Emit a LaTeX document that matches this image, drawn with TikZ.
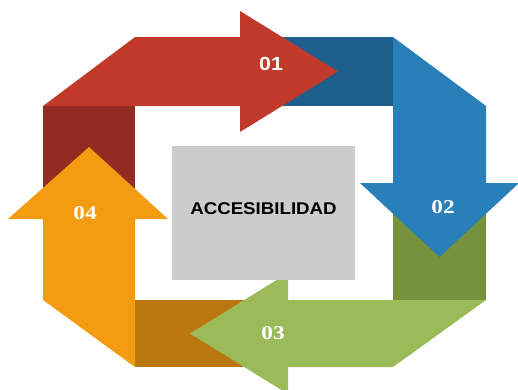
\documentclass[tikz,border=0pt]{standalone}
\usepackage{fontspec}
\setmainfont{Liberation Serif}
\setsansfont{Liberation Sans}
\definecolor{cRed}{HTML}{C0392B}
\definecolor{cRedD}{HTML}{922B21}
\definecolor{cBlue}{HTML}{2980B9}
\definecolor{cBlueD}{HTML}{1F5F8B}
\definecolor{cGreen}{HTML}{9BBB59}
\definecolor{cGreenD}{HTML}{76923C}
\definecolor{cOrange}{HTML}{F39C12}
\definecolor{cOrangeD}{HTML}{B9770E}
\definecolor{cGray}{HTML}{CCCCCC}
\begin{document}
\begin{tikzpicture}[x=1pt,y=-1pt,
  numlabel/.style={text=white,font=\fontsize{19.5}{19.5}\selectfont\bfseries,inner sep=0pt,xscale=1.2},
  numlabelsans/.style={text=white,font=\fontsize{19}{19}\selectfont\sffamily\bfseries,inner sep=0pt,xscale=1.12},
  centerbox/.style={fill=cGray,draw=none,minimum width=183pt,minimum height=134pt,inner sep=0pt,anchor=north west}]
\useasboundingbox (0,0) rectangle (518,389);
\clip (0,0) rectangle (518,389);
% dark tails
\fill[cRedD] (43,106) rectangle (135,219);
\fill[cBlueD] (240,37) rectangle (393,106);
\fill[cGreenD] (393,183) rectangle (486,300);
\fill[cOrangeD] (135,300) rectangle (288,367);
% main arrows
\fill[cRed] (43,106) -- (135,37) -- (240,37) -- (240,11) -- (338,71.5) -- (240,132) -- (240,106) -- cycle;
\fill[cBlue] (393,37) -- (486,106) -- (486,183) -- (519,183) -- (439.5,257) -- (360,183) -- (393,183) -- cycle;
\fill[cGreen] (486,300) -- (393,367) -- (288,367) -- (288,394) -- (190,333.5) -- (288,273) -- (288,300) -- cycle;
\fill[cOrange] (135,367) -- (43,300) -- (43,219) -- (8,219) -- (89,147) -- (168,219) -- (135,219) -- cycle;
% center box
\node[centerbox] (box) at (172,146) {};
\node[font=\fontsize{17}{17}\selectfont\sffamily\bfseries,xscale=1.1,inner sep=0pt] (title) at (263.5,209) {ACCESIBILIDAD};
% labels
\node[numlabelsans] (l1) at (271,63.5) {01};
\node[numlabel] (l2) at (443,207) {02};
\node[numlabel] (l3) at (273,333) {03};
\node[numlabel] (l4) at (85,213) {04};
\end{tikzpicture}
\end{document}
